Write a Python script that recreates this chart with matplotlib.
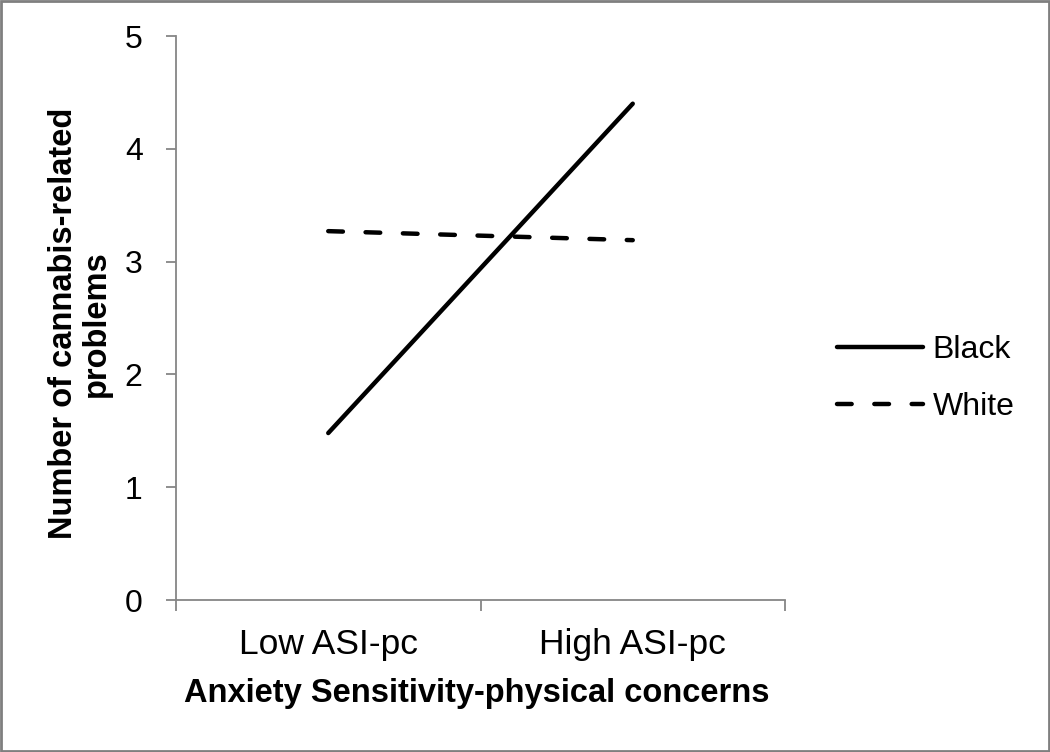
import matplotlib
matplotlib.use("Agg")
import matplotlib.pyplot as plt
from matplotlib.patches import Rectangle

categories = ["Low ASI-pc", "High ASI-pc"]
black_values = [1.48, 4.40]
white_values = [3.27, 3.19]
series_names = ["Black", "White"]
y_ticks = [0, 1, 2, 3, 4, 5]

plt.rcParams['font.family'] = ['Liberation Sans', 'DejaVu Sans']

fig = plt.figure(figsize=(10.5, 7.52), dpi=100)
ax = fig.add_axes([176/1050, 152/752, 609/1050, 564/752])

xpos = [i + 0.5 for i in range(len(categories))]
l1, = ax.plot(xpos, black_values, color='black', lw=3.2, solid_capstyle='round')
l2, = ax.plot(xpos, white_values, color='black', lw=3.2, dashes=(3.3, 5.1), dash_capstyle='round')

ax.set_xlim(0, len(categories))
ax.set_ylim(0, 5)
ax.set_yticks(y_ticks)
ax.set_yticklabels([str(t) for t in y_ticks])
ax.set_xticks(range(len(categories) + 1))
ax.set_xticklabels([])
ax.set_xticks(xpos, minor=True)
ax.set_xticklabels(categories, minor=True)
ax.tick_params(axis='x', which='minor', length=0, pad=20, labelsize=25.5)
ax.tick_params(axis='x', which='major', length=8, width=1.3, color='#868686', direction='out')
ax.tick_params(axis='y', length=7, width=1.3, color='#868686', direction='out', labelsize=23, pad=17)

for s in ['top', 'right']:
    ax.spines[s].set_visible(False)
for s in ['left', 'bottom']:
    ax.spines[s].set_color('#868686')
    ax.spines[s].set_linewidth(1.3)

ax.set_xlabel("Anxiety Sensitivity-physical concerns", fontsize=23.5, fontweight='bold')
ax.xaxis.label.set_va('top')
ax.xaxis.set_label_coords(0.494, -0.138)
ax.set_ylabel("Number of cannabis-related\nproblems", fontsize=23.5, fontweight='bold',
              linespacing=1.08)
ax.yaxis.label.set_va('center')
ax.yaxis.set_label_coords(-0.158, 0.49)

leg = ax.legend([l1, l2], series_names, loc='center left', bbox_to_anchor=(1.085, 0.393),
                frameon=False, fontsize=23, handlelength=2.7, handletextpad=0.3,
                labelspacing=0.85, borderaxespad=0, borderpad=0)

fig.patches.append(Rectangle((0.001, 0.001), 0.998, 0.998, transform=fig.transFigure,
                             fill=False, edgecolor='#7f7f7f', linewidth=2.0))

fig.savefig("out.png", dpi=100)
